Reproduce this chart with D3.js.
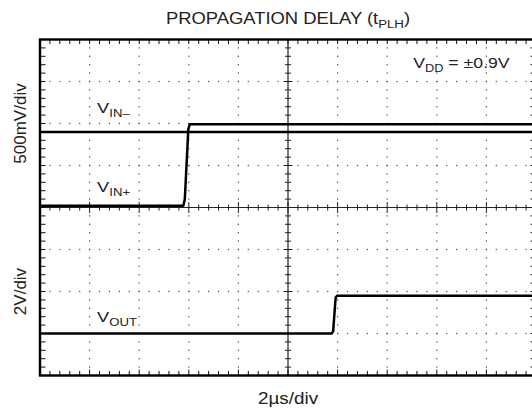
<!DOCTYPE html>
<html>
<head>
<meta charset="utf-8">
<script src="https://cdn.jsdelivr.net/npm/d3@7"></script>
<style>
  body { margin: 0; background: #fff; }
  svg { display: block; }
  text { font-family: "Liberation Sans", Arial, Helvetica, sans-serif; fill: #222; }
</style>
</head>
<body>
<div id="chart"></div>
<script>
// time axis: 2µs/div, 10 divisions
const timeDomain = [0, 20];
const divTimes = [2, 4, 6, 8, 12, 14, 16, 18];
const divLevels = [-3, -2, -1, 1, 2, 3];

// channel 1 (inputs): 500mV/div, zero at the centre line
const inVoltsPerDiv = 0.5;
const inOffsetDiv = 0;
// channel 2 (output): 2V/div, zero three divisions below centre
const outVoltsPerDiv = 2;
const outOffsetDiv = -3;

const vinMinusTime = [0, 20];
const vinMinusVolts = [0.9, 0.9];

const vinPlusTime = [0, 5.78, 5.84, 5.98, 6.04, 20];
const vinPlusVolts = [0.02, 0.02, 0.1, 0.93, 0.99, 0.99];

const voutTime = [0, 11.76, 11.82, 11.92, 11.98, 20];
const voutVolts = [0, 0, 0.1, 1.7, 1.8, 1.8];

const width = 532;
const height = 412;
const stretch = 1.18; // the reference is drawn a little wide

const x = d3.scaleLinear().domain(timeDomain).range([40, 536]);
const y = d3.scaleLinear().domain([-4, 4]).range([375.5, 39.5]);

const svg = d3.select('#chart')
  .append('svg')
  .attr('width', width)
  .attr('height', height)
  .attr('viewBox', `0 0 ${width} ${height}`);

svg.append('rect').attr('width', width).attr('height', height).attr('fill', '#fff');

const minorT = d3.range(0, 20.001, 0.4);
const minorY = d3.range(-4, 4.001, 0.2);
const isMajorT = (t) => Math.abs(t / 2 - Math.round(t / 2)) < 1e-6;
const isMajorY = (v) => Math.abs(v - Math.round(v)) < 1e-6;

// dotted graticule
const dots = svg.append('g').attr('fill', '#444');
divTimes.forEach((t) => {
  dots.selectAll(null)
    .data(minorY)
    .enter()
    .append('rect')
    .attr('x', x(t) - 0.6)
    .attr('y', (d) => y(d) - 0.6)
    .attr('width', 1.2)
    .attr('height', 1.2);
});
divLevels.forEach((lv) => {
  dots.selectAll(null)
    .data(minorT)
    .enter()
    .append('rect')
    .attr('x', (d) => x(d) - 0.6)
    .attr('y', y(lv) - 0.6)
    .attr('width', 1.2)
    .attr('height', 1.2);
});

// centre cross with ticks
const centre = svg.append('g');
centre.append('line')
  .attr('x1', x(10)).attr('x2', x(10))
  .attr('y1', y(-4)).attr('y2', y(4))
  .attr('stroke', '#777').attr('stroke-width', 2);
centre.append('line')
  .attr('x1', x(0)).attr('x2', x(20))
  .attr('y1', y(0)).attr('y2', y(0))
  .attr('stroke', '#222').attr('stroke-width', 1.2);

centre.selectAll('.vtick')
  .data(minorY)
  .enter()
  .append('line')
  .attr('x1', (d) => x(10) - (isMajorY(d) ? 4.5 : 3))
  .attr('x2', (d) => x(10) + (isMajorY(d) ? 4.5 : 3))
  .attr('y1', (d) => y(d))
  .attr('y2', (d) => y(d))
  .attr('stroke', '#222').attr('stroke-width', 1);

centre.selectAll('.htick')
  .data(minorT)
  .enter()
  .append('line')
  .attr('x1', (d) => x(d))
  .attr('x2', (d) => x(d))
  .attr('y1', (d) => y(0) - (isMajorT(d) ? 5.5 : 3))
  .attr('y2', (d) => y(0) + (isMajorT(d) ? 5.5 : 3))
  .attr('stroke', '#222').attr('stroke-width', 1);

// frame ticks
const frame = svg.append('g').attr('stroke', '#111').attr('stroke-width', 1);
frame.selectAll('.top')
  .data(minorT)
  .enter()
  .append('line')
  .attr('x1', (d) => x(d)).attr('x2', (d) => x(d))
  .attr('y1', y(4)).attr('y2', y(4) + 4.5);
frame.selectAll('.bottom')
  .data(minorT)
  .enter()
  .append('line')
  .attr('x1', (d) => x(d)).attr('x2', (d) => x(d))
  .attr('y1', y(-4)).attr('y2', (d) => y(-4) - (isMajorT(d) ? 6 : 4.5));
frame.selectAll('.left')
  .data(minorY)
  .enter()
  .append('line')
  .attr('x1', x(0)).attr('x2', x(0) + 5.5)
  .attr('y1', (d) => y(d)).attr('y2', (d) => y(d));
frame.selectAll('.right')
  .data(minorY)
  .enter()
  .append('line')
  .attr('x1', x(20)).attr('x2', x(20) - 5.5)
  .attr('y1', (d) => y(d)).attr('y2', (d) => y(d));

svg.append('rect')
  .attr('x', x(0)).attr('y', y(4))
  .attr('width', x(20) - x(0)).attr('height', y(-4) - y(4))
  .attr('fill', 'none').attr('stroke', '#000').attr('stroke-width', 2.4);

// traces
const trace = (times, volts, perDiv, offset) => {
  const pts = times.map((t, i) => [t, volts[i] / perDiv + offset]);
  return d3.line().x((d) => x(d[0])).y((d) => y(d[1]))(pts);
};

const traces = svg.append('g')
  .attr('fill', 'none')
  .attr('stroke', '#000')
  .attr('stroke-width', 2.5)
  .attr('stroke-linejoin', 'round');

traces.append('path').attr('d', trace(vinMinusTime, vinMinusVolts, inVoltsPerDiv, inOffsetDiv));
traces.append('path').attr('d', trace(vinPlusTime, vinPlusVolts, inVoltsPerDiv, inOffsetDiv));
traces.append('path').attr('d', trace(voutTime, voutVolts, outVoltsPerDiv, outOffsetDiv));

// text
function label (px, py, parts, size, anchor) {
  const t = svg.append('text')
    .attr('transform', `translate(${px},${py}) scale(${stretch},1)`)
    .attr('text-anchor', anchor || 'start')
    .style('font-size', `${size}px`);
  let shifted = false;
  parts.forEach(([str, sub]) => {
    const span = t.append('tspan').text(str);
    if (sub) {
      span.attr('dy', 4).style('font-size', `${size * 0.72}px`);
      shifted = true;
    } else if (shifted) {
      span.attr('dy', -4);
      shifted = false;
    }
  });
  return t;
}

label(x(10), 23.5, [['PROPAGATION DELAY (t'], ['PLH', true], [')']], 15.6, 'middle');
label(x(2.3), y(2.24), [['V'], ['IN–', true]], 15.5);
label(x(2.3), y(0.37), [['V'], ['IN+', true]], 15.5);
label(x(2.3), y(-2.73), [['V'], ['OUT', true]], 15.5);
label(x(15.05), y(3.33), [['V'], ['DD', true], [' = ±0.9V']], 15);
label(x(10), 404, [['2µs/div']], 16, 'middle');

svg.append('text')
  .attr('transform', `translate(25.5,${y(2)}) rotate(-90)`)
  .attr('text-anchor', 'middle')
  .style('font-size', '17px')
  .text('500mV/div');
svg.append('text')
  .attr('transform', `translate(25.5,${y(-2)}) rotate(-90)`)
  .attr('text-anchor', 'middle')
  .style('font-size', '17px')
  .text('2V/div');
</script>
</body>
</html>
